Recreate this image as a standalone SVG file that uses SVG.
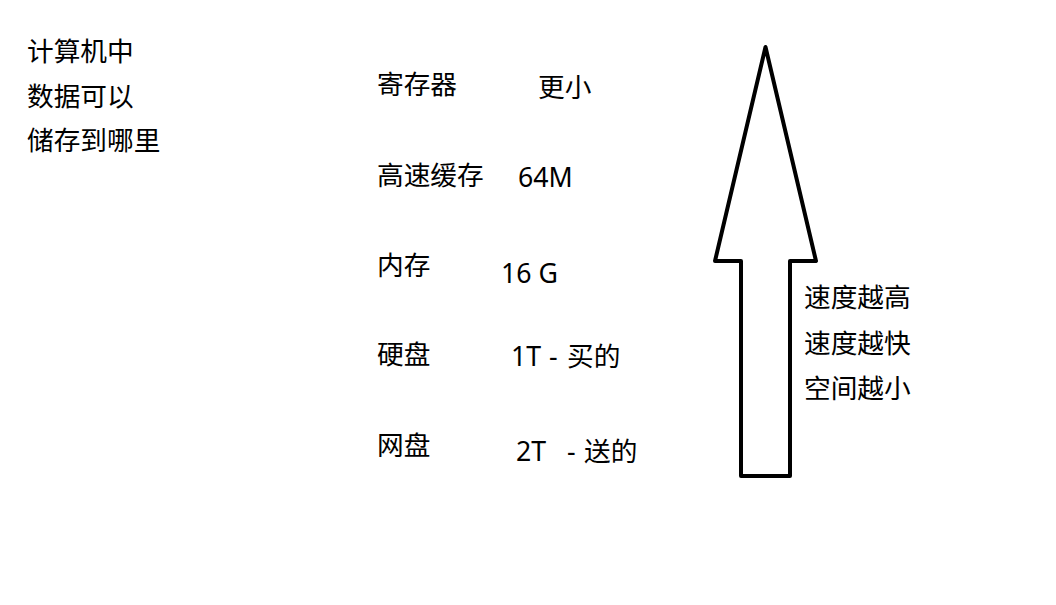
<svg xmlns="http://www.w3.org/2000/svg" width="1056" height="605" viewBox="0 0 1056 605">
<style>
.t{font-family:"Noto Sans","Noto Sans CJK SC",sans-serif;font-size:26.7px;fill:#000;white-space:pre}
.arrow{fill:#fff;stroke:#000;stroke-width:4;stroke-linejoin:round}
</style>
<rect width="1056" height="605" fill="#fff"/>
<g id="title">
<text class="t" x="27" y="61">计算机中</text>
<text class="t" x="27" y="106">数据可以</text>
<text class="t" x="27" y="150">储存到哪里</text>
</g>
<g id="register">
<text class="t" x="377" y="94">寄存器</text>
<text class="t" x="538" y="97">更小</text>
</g>
<g id="cache">
<text class="t" x="377" y="185">高速缓存</text>
<text class="t" x="518" y="187">64M</text>
</g>
<g id="memory">
<text class="t" x="377" y="275">内存</text>
<text class="t" x="501" y="283">16 G</text>
</g>
<g id="disk">
<text class="t" x="377" y="364">硬盘</text>
<text class="t" y="366"><tspan x="511">1T </tspan><tspan x="549">- </tspan><tspan x="567">买的</tspan></text>
</g>
<g id="netdisk">
<text class="t" x="377" y="455">网盘</text>
<text class="t" y="461"><tspan x="516">2T  </tspan><tspan x="567">- </tspan><tspan x="584">送的</tspan></text>
</g>
<g id="connectors">
<polygon class="arrow" points="765.5,47 816,261 790,261 790,476 741,476 741,261 715,261"/>
</g>
<g id="note">
<text class="t" x="804" y="307">速度越高</text>
<text class="t" x="804" y="353">速度越快</text>
<text class="t" x="804" y="398">空间越小</text>
</g>
</svg>
